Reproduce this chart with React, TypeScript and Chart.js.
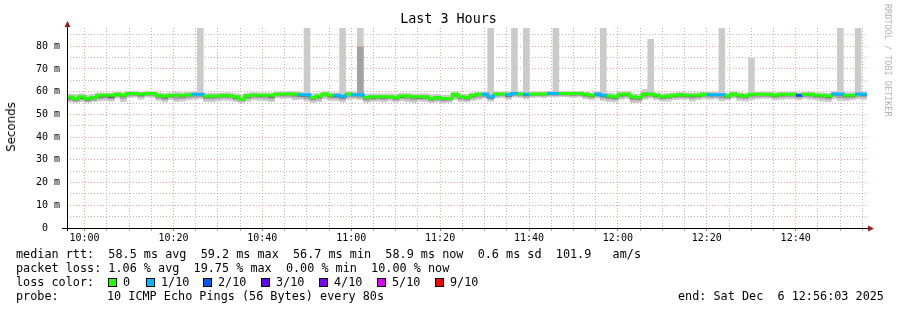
import React, { useEffect, useRef } from 'react';
import { Chart, registerables } from 'chart.js';

Chart.register(...registerables);

// ---- time axis (minutes since midnight) ----
const START_MIN = 9 * 60 + 56 + 3 / 60; // 09:56:03
const STEP_MIN = 80 / 60; // one probe every 80 s
const xGridMinutes = [600, 605, 610, 615, 620, 625, 630, 635, 640, 645, 650, 655, 660, 665, 670, 675, 680, 685, 690, 695, 700, 705, 710, 715, 720, 725, 730, 735, 740, 745, 750, 755, 760, 765, 770, 775];
const yTickValues = [0, 5, 10, 15, 20, 25, 30, 35, 40, 45, 50, 55, 60, 65, 70, 75, 80, 85];

// ---- median rtt (ms), one per 80 s sample ----
const median = [
  57.6, 56.9, 57.7, 56.9, 57.4, 58.4, 58.4, 58.4, 58.9, 58.4, 59.2, 59.2, 58.8, 59.2, 59.2,
  58.3, 58.0, 58.4, 58.4, 58.4, 58.6, 58.8, 58.8, 58.0, 58.1, 58.1, 58.4, 58.2, 57.8, 56.7,
  58.2, 58.5, 58.4, 58.4, 58.4, 59.0, 59.0, 59.0, 59.0, 58.6, 58.6, 57.4, 58.1, 59.0, 58.4,
  58.4, 58.0, 59.0, 58.6, 58.6, 57.4, 57.8, 57.8, 57.8, 57.8, 57.4, 58.1, 58.1, 57.8, 57.8,
  57.8, 57.0, 57.4, 57.0, 57.0, 58.8, 57.8, 57.4, 58.4, 58.8, 58.8, 57.8, 59.0, 59.0, 58.6,
  59.2, 59.0, 58.8, 59.0, 59.0, 59.0, 59.2, 59.2, 59.2, 59.2, 59.2, 59.2, 58.8, 58.4, 59.0,
  58.4, 58.1, 57.8, 58.8, 59.0, 57.8, 57.4, 58.8, 59.0, 58.4, 57.8, 58.1, 58.4, 58.6, 58.4,
  58.4, 58.4, 58.8, 58.6, 58.6, 58.6, 58.1, 59.0, 58.4, 58.1, 58.8, 58.8, 58.8, 58.8, 58.4,
  58.8, 58.8, 58.8, 58.4, 58.8, 58.8, 58.4, 58.4, 58.1, 59.0, 59.0, 58.4, 58.4, 59.0, 58.8,
];

// ---- lost pings out of 10 per sample ----
const loss = [
  0, 0, 0, 0, 0, 0, 0, 0, 0, 0, 0, 0, 0, 0, 0,
  0, 0, 0, 0, 0, 0, 1, 1, 0, 0, 0, 0, 0, 0, 0,
  0, 0, 0, 0, 0, 0, 0, 0, 0, 1, 1, 0, 0, 0, 0,
  1, 1, 0, 1, 1, 0, 0, 0, 0, 0, 0, 0, 0, 0, 0,
  0, 0, 0, 0, 0, 0, 0, 0, 0, 0, 1, 1, 0, 0, 1,
  1, 0, 1, 0, 0, 0, 1, 1, 0, 0, 0, 0, 0, 0, 1,
  1, 0, 0, 0, 0, 0, 0, 0, 0, 0, 0, 0, 0, 0, 0,
  0, 0, 0, 1, 1, 1, 0, 0, 0, 0, 0, 0, 0, 0, 0,
  0, 0, 0, 2, 0, 0, 0, 0, 0, 1, 1, 0, 0, 1, 1,
];

// ---- smoke: outer (lightest) range of the pings ----
const smokeOuterLo = [
  55.4, 55.2, 55.6, 55.1, 55.6, 55.9, 56.1, 55.8, 57.1, 55.6, 57.4, 57.5, 56.6, 57.6, 57.4,
  56.1, 55.4, 56.4, 55.6, 55.8, 56.4, 56.6, 56.8, 55.6, 55.4, 55.8, 56.2, 56.1, 55.6, 55.1,
  55.8, 56.4, 56.1, 56.0, 55.6, 57.2, 57.0, 57.1, 56.4, 56.6, 55.8, 55.2, 55.6, 56.8, 56.1,
  56.1, 55.4, 56.6, 56.8, 56.4, 55.2, 55.6, 55.8, 55.4, 56.0, 55.4, 56.0, 55.6, 55.2, 55.8,
  55.6, 55.1, 55.4, 55.0, 55.2, 56.4, 55.6, 55.4, 56.1, 56.6, 57.1, 55.8, 57.2, 57.4, 56.6,
  57.6, 57.4, 56.8, 57.4, 57.6, 57.4, 57.8, 57.6, 57.8, 57.6, 57.4, 57.6, 56.8, 56.4, 57.1,
  56.1, 55.6, 55.4, 56.6, 57.0, 55.1, 55.2, 56.6, 57.1, 56.4, 55.8, 55.8, 56.4, 56.6, 56.6,
  55.8, 56.4, 56.8, 56.6, 56.8, 56.0, 56.4, 57.1, 56.1, 55.8, 56.4, 56.8, 57.0, 57.0, 56.4,
  56.6, 56.8, 56.8, 56.4, 57.0, 56.6, 56.4, 55.8, 55.6, 56.8, 56.1, 56.0, 56.4, 56.8, 56.6,
];
const smokeOuterHi = [
  58.9, 58.7, 59.1, 58.5, 59.0, 59.5, 59.4, 59.4, 59.8, 59.5, 60.1, 60.0, 59.7, 60.1, 60.0,
  59.5, 59.3, 59.5, 59.7, 59.5, 59.8, 59.8, 95, 59.3, 59.4, 59.3, 59.5, 59.5, 59.1, 58.7,
  59.4, 59.6, 59.5, 59.5, 59.4, 59.9, 59.9, 60.0, 59.9, 59.7, 95, 59.1, 59.3, 60.0, 59.5,
  59.5, 95, 60.0, 59.7, 95, 58.9, 59.1, 59.1, 59.0, 59.1, 58.9, 59.3, 59.3, 59.0, 59.1,
  59.1, 58.7, 58.9, 58.5, 58.5, 59.8, 59.0, 58.9, 59.5, 59.7, 59.8, 95, 59.9, 59.9, 59.7,
  95, 60.0, 95, 59.9, 59.9, 59.9, 60.1, 95, 60.1, 60.1, 60.1, 60.1, 59.8, 59.5, 60.0,
  95, 59.3, 59.1, 59.8, 60.0, 59.1, 58.9, 61.0, 83.0, 59.5, 59.1, 59.3, 59.5, 59.7, 59.5,
  59.5, 59.5, 59.8, 59.7, 59.7, 95, 59.3, 60.0, 59.5, 59.3, 74.7, 59.8, 59.8, 59.8, 59.5,
  59.8, 59.8, 59.8, 59.5, 59.8, 59.8, 59.5, 59.5, 59.3, 60.0, 95, 59.5, 59.5, 95, 59.8,
];

// ---- smoke: inner (mid grey) range ----
const smokeInnerLo = [
  56.3, 55.9, 56.5, 55.9, 56.3, 56.9, 57.1, 56.7, 57.9, 56.9, 58.1, 58.2, 57.7, 58.3, 58.2,
  57.1, 56.5, 57.3, 56.7, 56.9, 57.3, 57.5, 57.7, 56.7, 56.7, 56.9, 57.2, 57.1, 56.6, 55.9,
  56.9, 57.3, 57.2, 57.1, 56.7, 58.0, 57.9, 57.9, 57.5, 57.5, 56.9, 56.2, 56.7, 57.9, 57.1,
  57.1, 56.5, 57.7, 57.6, 57.3, 56.2, 56.6, 56.7, 56.5, 56.9, 56.3, 57.0, 56.7, 56.3, 56.7,
  56.6, 56.0, 56.3, 55.9, 56.1, 57.5, 56.6, 56.3, 57.1, 57.5, 57.7, 56.7, 58.0, 58.1, 57.5,
  58.3, 58.1, 57.7, 58.1, 58.2, 58.1, 58.4, 58.3, 58.4, 58.3, 58.2, 58.3, 57.7, 57.3, 57.9,
  57.1, 56.7, 56.5, 57.5, 57.9, 56.3, 56.2, 57.5, 57.9, 57.3, 56.7, 56.9, 57.3, 57.5, 57.4,
  57.0, 57.3, 57.7, 57.5, 57.6, 57.1, 57.1, 57.9, 57.2, 56.9, 57.5, 57.7, 57.8, 57.8, 57.3,
  57.6, 57.7, 57.7, 57.3, 57.8, 57.6, 57.3, 57.0, 56.7, 57.8, 57.3, 57.1, 57.3, 57.8, 57.6,
];
const smokeInnerHi = [
  58.0, 57.4, 58.1, 57.3, 57.9, 58.7, 58.7, 58.7, 59.1, 58.7, 59.4, 59.4, 59.0, 59.4, 59.4,
  58.6, 58.3, 58.7, 58.8, 58.7, 58.9, 59.1, 59.1, 58.3, 58.4, 58.4, 58.7, 58.5, 58.1, 57.3,
  58.5, 58.8, 58.7, 58.7, 58.6, 59.2, 59.2, 59.3, 59.2, 58.9, 58.9, 57.8, 58.4, 59.2, 58.7,
  58.7, 58.4, 59.2, 58.9, 79.7, 57.8, 58.1, 58.1, 58.1, 58.1, 57.8, 58.4, 58.4, 58.1, 58.2,
  58.1, 57.5, 57.8, 57.4, 57.4, 59.0, 58.1, 57.8, 58.7, 59.0, 59.0, 58.2, 59.2, 59.2, 58.9,
  59.4, 59.2, 59.0, 59.2, 59.2, 59.2, 59.4, 59.4, 59.4, 59.4, 59.4, 59.4, 59.0, 58.7, 59.2,
  58.7, 58.4, 58.1, 59.0, 59.2, 58.1, 57.8, 59.6, 59.4, 58.7, 58.1, 58.4, 58.7, 58.9, 58.7,
  58.7, 58.7, 59.0, 58.9, 58.9, 58.9, 58.4, 59.2, 58.7, 58.4, 59.0, 59.0, 59.0, 59.0, 58.7,
  59.0, 59.0, 59.0, 58.7, 59.0, 59.0, 58.7, 58.7, 58.4, 59.2, 59.2, 58.7, 58.7, 59.2, 59.0,
];

// ---- smoke: darkest core, from this value up to the median ----
const smokeCoreLo = [
  57.0, 56.3, 57.0, 56.2, 56.8, 57.6, 57.7, 57.4, 58.4, 57.8, 59.2, 59.2, 58.2, 59.2, 59.2,
  57.7, 57.2, 57.9, 58.4, 57.8, 58.6, 58.8, 58.8, 57.4, 57.6, 58.1, 57.8, 58.2, 57.1, 56.7,
  57.6, 58.5, 57.8, 58.1, 57.6, 59.0, 58.5, 59.0, 58.5, 58.0, 58.0, 56.8, 57.5, 59.0, 57.8,
  57.7, 57.3, 59.0, 58.6, 58.6, 56.8, 57.1, 57.3, 57.2, 57.8, 56.8, 57.4, 57.8, 57.2, 57.1,
  57.2, 56.4, 56.8, 56.4, 56.5, 58.4, 57.2, 56.8, 57.8, 58.8, 58.8, 57.2, 59.0, 59.0, 58.0,
  59.2, 59.0, 58.3, 59.0, 59.0, 59.0, 59.2, 59.2, 59.2, 59.2, 58.6, 58.7, 58.2, 57.8, 58.4,
  57.8, 57.4, 57.1, 58.2, 58.5, 57.1, 56.8, 58.3, 59.0, 57.8, 57.2, 57.6, 57.8, 58.1, 57.8,
  57.8, 57.9, 58.8, 58.6, 58.6, 58.6, 57.6, 59.0, 57.8, 57.6, 58.3, 58.8, 58.8, 58.8, 57.8,
  58.3, 58.8, 58.8, 58.4, 58.8, 58.3, 57.8, 57.8, 57.4, 59.0, 58.5, 57.8, 57.9, 59.0, 58.4,
];

// ---- loss colour legend ----
const lossSteps = [0, 1, 2, 3, 4, 5, 9];
const lossLabels = ['0', '1/10', '2/10', '3/10', '4/10', '5/10', '9/10'];
const lossColors = ['#26ff00', '#00b8ff', '#0059ff', '#5e00ff', '#7e00ff', '#dd00ff', '#ff0000'];

// ---- legend text ----
const rttLine = 'median rtt:  58.5 ms avg  59.2 ms max  56.7 ms min  58.9 ms now  0.6 ms sd  101.9   am/s';
const lossLine = 'packet loss: 1.06 % avg  19.75 % max  0.00 % min  10.00 % now';
const probeLabel = 'probe:';
const probeText = '10 ICMP Echo Pings (56 Bytes) every 80s';
const endText = 'end: Sat Dec  6 12:56:03 2025';
const titleText = 'Last 3 Hours';
const yTitle = 'Seconds';
const watermark = 'RRDTOOL / TOBI OETIKER';

// ---- layout (pixels) ----
const W = 897;
const H = 310;
const MONO = "'DejaVu Sans Mono', monospace";
const lossBoxX = [108, 146, 203, 261, 319, 377, 435];
const lossLabelX = [123, 161, 218, 276, 334, 392, 450];
const GRID = 'rgba(140,140,140,0.6)';
const MGRID = 'rgba(255,100,100,0.6)';

function colorForLoss(n: number): string {
  let idx = 0;
  for (let k = 0; k < lossSteps.length; k++) if (n >= lossSteps[k]) idx = k;
  return lossColors[idx];
}

function fmtTime(v: number): string {
  const h = Math.floor(v / 60);
  const m = Math.round(v - h * 60);
  return `${h}:${String(m).padStart(2, '0')}`;
}

const axesPlugin = {
  id: 'rrdAxes',
  afterDatasetsDraw(chart: any) {
    const { ctx, chartArea } = chart;
    const { left, right, top, bottom } = chartArea;
    ctx.save();
    ctx.strokeStyle = '#000';
    ctx.lineWidth = 1;
    ctx.beginPath();
    ctx.moveTo(left - 5, bottom + 0.5);
    ctx.lineTo(right + 3, bottom + 0.5);
    ctx.moveTo(left + 0.5, bottom + 3);
    ctx.lineTo(left + 0.5, top - 3);
    ctx.stroke();
    ctx.fillStyle = '#9b1c1c';
    ctx.beginPath();
    ctx.moveTo(right + 7, bottom + 0.5);
    ctx.lineTo(right + 1, bottom - 2.5);
    ctx.lineTo(right + 1, bottom + 3.5);
    ctx.closePath();
    ctx.fill();
    ctx.beginPath();
    ctx.moveTo(left + 0.5, top - 7);
    ctx.lineTo(left - 2.5, top - 1);
    ctx.lineTo(left + 3.5, top - 1);
    ctx.closePath();
    ctx.fill();
    ctx.restore();
  },
};

export default function App() {
  const canvasRef = useRef<HTMLCanvasElement>(null);

  useEffect(() => {
    document.body.style.margin = '0';
    const canvas = canvasRef.current;
    if (!canvas) return;
    const n = median.length;
    const endMin = START_MIN + n * STEP_MIN;
    const centers = median.map((_, i) => START_MIN + (i + 0.5) * STEP_MIN);
    const starts = median.map((_, i) => START_MIN + i * STEP_MIN);

    const band = (lo: number[], hi: number[], color: string, label: string, order: number) => ({
      type: 'bar' as const,
      label,
      data: centers.map((x, i) => ({ x, y: [lo[i], hi[i]] })),
      backgroundColor: color,
      borderWidth: 0,
      barPercentage: 1,
      categoryPercentage: 1,
      grouped: false,
      order,
    });

    const lineData = starts.map((x, i) => ({ x, y: median[i] }));
    lineData.push({ x: endMin, y: median[n - 1] });

    const chart = new Chart(canvas, {
      type: 'bar',
      data: {
        datasets: [
          {
            type: 'line' as const,
            label: 'median rtt',
            data: lineData,
            stepped: 'before',
            borderWidth: 3,
            borderColor: lossColors[0],
            borderCapStyle: 'butt',
            borderJoinStyle: 'miter',
            pointRadius: 0,
            fill: false,
            order: 0,
            segment: {
              borderColor: (c: any) => colorForLoss(loss[Math.min(c.p0DataIndex, n - 1)]),
            },
          } as any,
          band(smokeCoreLo, median, '#5a5a5a', 'smoke core', 1),
          band(smokeInnerLo, smokeInnerHi, '#a2a2a2', 'smoke inner', 2),
          band(smokeOuterLo, smokeOuterHi, '#cbcbcb', 'smoke outer', 3),
        ],
      },
      options: {
        animation: false,
        responsive: false,
        maintainAspectRatio: false,
        devicePixelRatio: 1,
        layout: { padding: { top: 28, right: 30, left: 0, bottom: 0 } },
        plugins: { legend: { display: false }, tooltip: { enabled: false }, title: { display: false } },
        scales: {
          x: {
            type: 'linear',
            offset: false,
            min: START_MIN,
            max: endMin,
            afterBuildTicks: (s: any) => {
              s.ticks = xGridMinutes.map((v) => ({ value: v }));
            },
            afterFit: (s: any) => {
              s.height = H - 228;
            },
            ticks: {
              autoSkip: false,
              maxRotation: 0,
              padding: 1,
              color: '#000',
              font: { family: MONO, size: 10 },
              callback: (v: any) => (Number(v) % 20 === 0 ? fmtTime(Number(v)) : ''),
            },
            grid: {
              offset: false,
              color: (c: any) => (c.tick && c.tick.value % 20 === 0 ? MGRID : GRID),
              tickColor: (c: any) => (c.tick && c.tick.value % 20 === 0 ? '#e06060' : '#b0b0b0'),
              tickLength: 3,
              lineWidth: 1,
            },
            border: { display: false, dash: [1, 2] },
          },
          y: {
            type: 'linear',
            min: 0,
            max: 88,
            afterBuildTicks: (s: any) => {
              s.ticks = yTickValues.map((v) => ({ value: v }));
            },
            afterFit: (s: any) => {
              s.width = 67;
            },
            ticks: {
              autoSkip: false,
              padding: 7,
              color: '#000',
              font: { family: MONO, size: 10 },
              callback: (v: any) => {
                const num = Number(v);
                if (num % 10 !== 0) return '';
                return num === 0 ? '0  ' : `${num} m`;
              },
            },
            grid: {
              color: (c: any) => (c.tick && c.tick.value % 10 === 0 ? MGRID : GRID),
              drawTicks: false,
              lineWidth: 1,
            },
            border: { display: false, dash: [1, 2] },
          },
        },
      } as any,
      plugins: [axesPlugin],
    });
    return () => chart.destroy();
  }, []);

  const legendFont: React.CSSProperties = {
    position: 'absolute',
    fontFamily: MONO,
    fontSize: '11.8px',
    lineHeight: '14px',
    whiteSpace: 'pre',
    color: '#000',
  };

  return (
    <div style={{ position: 'relative', width: W, height: H, background: '#fff', overflow: 'hidden' }}>
      <canvas ref={canvasRef} width={W} height={H} style={{ position: 'absolute', left: 0, top: 0, width: W, height: H }} />
      <div
        style={{
          position: 'absolute', left: 0, top: 11, width: W, textAlign: 'center',
          fontFamily: MONO, fontSize: '13.4px', lineHeight: '16px', color: '#000', whiteSpace: 'pre',
        }}
      >
        {titleText}
      </div>
      <div
        style={{
          position: 'absolute', left: 11, top: 127, transform: 'translate(-50%, -50%) rotate(-90deg)',
          fontFamily: "'DejaVu Sans', sans-serif", fontSize: '11.8px', lineHeight: '14px', color: '#000', whiteSpace: 'pre',
        }}
      >
        {yTitle}
      </div>
      <div
        style={{
          position: 'absolute', left: 883, top: 4, writingMode: 'vertical-rl',
          fontFamily: MONO, fontSize: '8.5px', lineHeight: '10px', color: '#b4b4b4', whiteSpace: 'pre',
        }}
      >
        {watermark}
      </div>
      <div style={{ ...legendFont, left: 16, top: 247 }}>{rttLine}</div>
      <div style={{ ...legendFont, left: 16, top: 261 }}>{lossLine}</div>
      <div style={{ ...legendFont, left: 16, top: 275 }}>loss color:</div>
      {lossLabels.map((t, i) => (
        <React.Fragment key={`c${i}`}>
          <div
            style={{
              position: 'absolute', left: lossBoxX[i], top: 278, width: 7, height: 7,
              background: lossColors[i], border: '1px solid #000',
            }}
          />
          <div style={{ ...legendFont, left: lossLabelX[i], top: 275 }}>{t}</div>
        </React.Fragment>
      ))}
      <div style={{ ...legendFont, left: 16, top: 289 }}>{probeLabel}</div>
      <div style={{ ...legendFont, left: 107, top: 289 }}>{probeText}</div>
      <div style={{ ...legendFont, left: 678, top: 289 }}>{endText}</div>
    </div>
  );
}
